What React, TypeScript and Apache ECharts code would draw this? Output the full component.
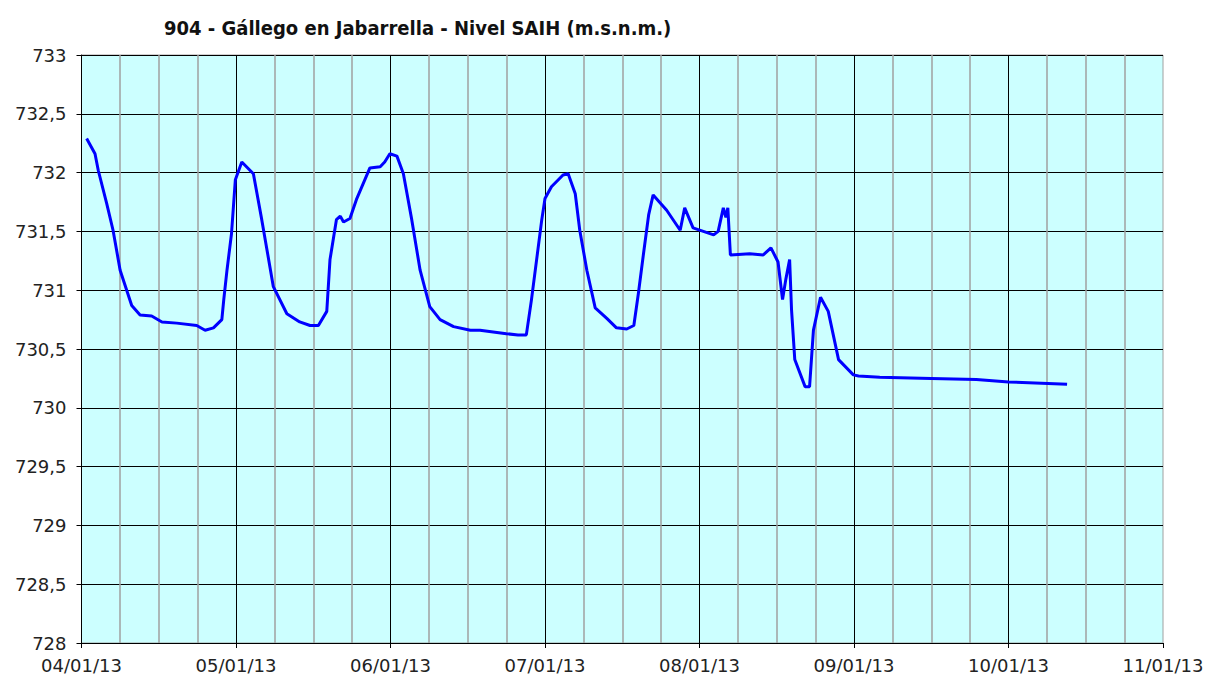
import React, { useEffect, useRef } from "react";
import * as echarts from "echarts";

const titleText = "904 - Gállego en Jabarrella - Nivel SAIH (m.s.n.m.)";
const dayLabels = ["04/01/13", "05/01/13", "06/01/13", "07/01/13", "08/01/13", "09/01/13", "10/01/13", "11/01/13"];
// hours since 04/01/13 00:00
const hours = [
  0.8, 2.1, 2.6, 3.9, 4.9, 6.0, 7.8, 9.1, 10.9, 12.5, 14.8, 17.9, 19.2, 20.5, 21.8, 22.1, 22.6, 23.3, 23.9,
  24.9, 26.7, 28.0, 29.8, 31.9, 33.9, 35.5, 36.8, 38.1, 38.6, 39.6, 40.2, 40.7, 41.7, 42.7, 44.8, 46.4, 47.1, 47.9,
  49.0, 50.0, 51.3, 52.6, 54.1, 55.7, 57.8, 60.4, 61.9, 66.0, 67.8, 69.1, 69.9, 70.7, 71.5, 72.0,
  73.0, 74.8, 75.6, 76.7, 77.4, 78.5, 79.8, 81.6, 83.1, 84.7, 85.8, 86.5, 87.3, 88.1, 88.8, 90.9, 93.0, 93.7, 95.0,
  96.6, 98.2, 98.9, 99.7, 100.1, 100.4, 100.8, 103.8, 105.9, 107.1, 108.2, 108.9, 109.4, 110.0, 110.3, 110.8,
  112.4, 113.1, 113.7, 114.8, 116.0, 117.6, 119.9, 120.7, 124.0, 132.0, 139.0, 144.0, 153.1,
];
const levels = [
  732.29, 732.16, 732.02, 731.74, 731.51, 731.17, 730.87, 730.79, 730.78, 730.73, 730.72, 730.7, 730.66, 730.68, 730.75, 730.92, 731.17, 731.48, 731.94,
  732.09, 731.99, 731.6, 731.03, 730.8, 730.73, 730.7, 730.7, 730.82, 731.26, 731.6, 731.63, 731.58, 731.61, 731.77, 732.04, 732.05, 732.09, 732.16,
  732.14, 731.99, 731.6, 731.17, 730.86, 730.75, 730.69, 730.66, 730.66, 730.63, 730.62, 730.62, 730.92, 731.26, 731.6, 731.78,
  731.88, 731.98, 731.99, 731.82, 731.51, 731.17, 730.85, 730.76, 730.68, 730.67, 730.7, 730.97, 731.31, 731.64, 731.81, 731.68, 731.51, 731.7, 731.53,
  731.5, 731.47, 731.5, 731.7, 731.62, 731.7, 731.3, 731.31, 731.3, 731.36, 731.24, 730.92, 731.09, 731.26, 730.83, 730.41,
  730.18, 730.18, 730.66, 730.94, 730.82, 730.41, 730.28, 730.27, 730.26, 730.25, 730.24, 730.22, 730.2,
];

export default function App() {
  const ref = useRef<HTMLDivElement>(null);
  useEffect(() => {
    if (!ref.current) return;
    const chart = echarts.init(ref.current, undefined, { renderer: "svg" });
    const font = "'DejaVu Sans', Verdana, sans-serif";
    chart.setOption({
      animation: false,
      title: {
        text: titleText,
        left: 159,
        top: 13,
        textStyle: { fontFamily: "'DejaVu Sans Condensed', 'DejaVu Sans', sans-serif", fontWeight: "bold", fontSize: 20, color: "#111" },
      },
      grid: {
        left: 81.5,
        top: 55,
        right: 46,
        bottom: 36,
        show: true,
        backgroundColor: "#CCFFFF",
        borderColor: "#A0A0A0",
        borderWidth: 1,
      },
      xAxis: {
        type: "value",
        min: 0,
        max: 168,
        interval: 24,
        axisLine: { show: true, lineStyle: { color: "#000", width: 1 } },
        axisTick: { show: true, length: 5, lineStyle: { color: "#000" } },
        axisLabel: {
          margin: 13,
          fontFamily: font,
          fontSize: 18,
          color: "#222",
          formatter: (v: number) => dayLabels[Math.round(v / 24)] ?? "",
        },
        splitLine: { show: true, showMaxLine: false, lineStyle: { color: "#000", width: 1 } },
        minorTick: { show: false, splitNumber: 4 },
        minorSplitLine: { show: true, lineStyle: { color: "#A0A0A0", width: 1.5 } },
      },
      yAxis: {
        type: "value",
        min: 728,
        max: 733,
        interval: 0.5,
        axisLine: { show: true, lineStyle: { color: "#000", width: 1 } },
        axisTick: { show: true, length: 5, lineStyle: { color: "#000" } },
        axisLabel: {
          margin: 15,
          fontFamily: font,
          fontSize: 18,
          color: "#222",
          formatter: (v: number) => String(Math.round(v * 10) / 10).replace(".", ","),
        },
        splitLine: { show: true, lineStyle: { color: "#000", width: 1 } },
      },
      series: [
        {
          type: "line",
          data: hours.map((h, i) => [h, levels[i]]),
          showSymbol: false,
          lineStyle: { color: "#0000FF", width: 3 },
          z: 5,
        },
      ],
    });
    return () => chart.dispose();
  }, []);
  return <div ref={ref} style={{ width: 1209, height: 679, position: "absolute", left: 0, top: 0 }} />;
}
